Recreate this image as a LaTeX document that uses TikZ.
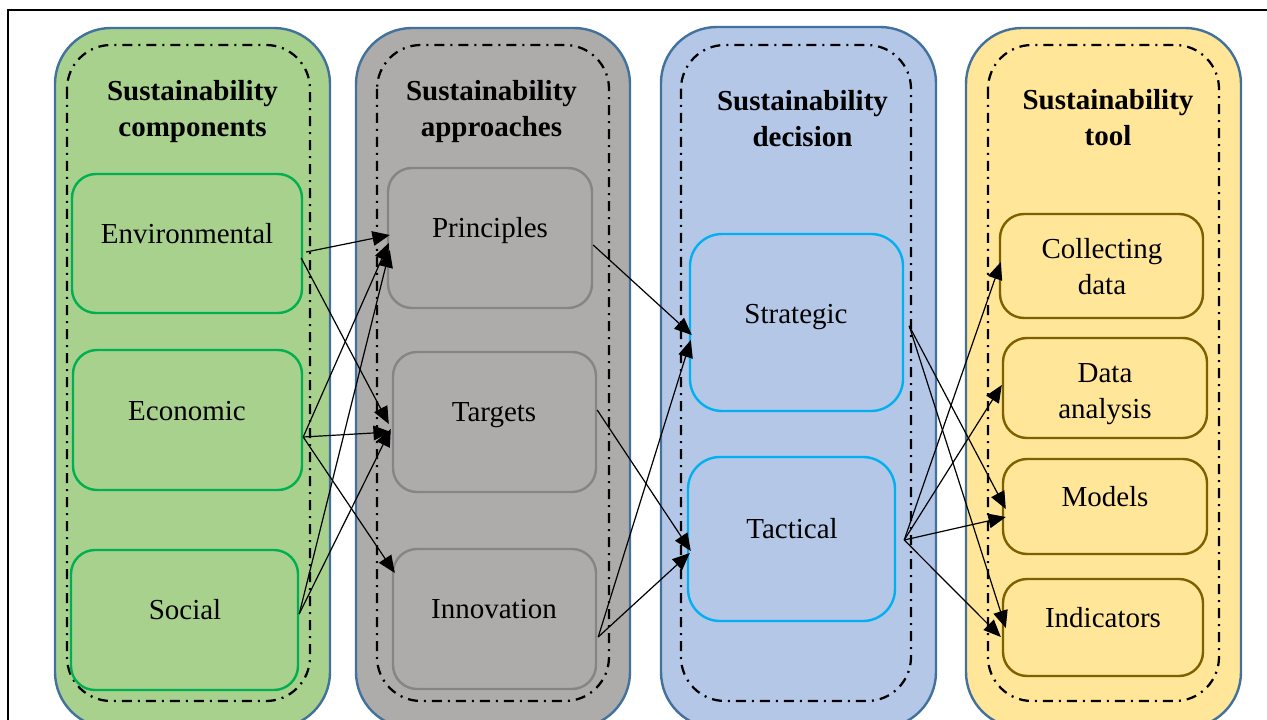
\documentclass[tikz,border=0pt]{standalone}
\usepackage{fontspec}
\setmainfont{Liberation Serif}
\usetikzlibrary{arrows.meta,calc}
\definecolor{cgreen}{HTML}{A9D18E}
\definecolor{cgreenb}{HTML}{00B050}
\definecolor{cgray}{HTML}{AEABAB}
\definecolor{cgrayb}{HTML}{858585}
\definecolor{cblue}{HTML}{B4C7E7}
\definecolor{cblueb}{HTML}{00B0F0}
\definecolor{cyel}{HTML}{FFE699}
\definecolor{cyelb}{HTML}{7F6000}
\definecolor{cedge}{HTML}{41719C}
\newcommand\pxu{*0.75pt}
\begin{document}
\begin{tikzpicture}[x=0.75pt,y=-0.75pt,
  container/.style={draw=cedge, line width=1.8pt, rounded corners=42pt},
  dashdot/.style={draw=black, line width=1.7pt, rounded corners=33pt,
    dash pattern=on 7.5pt off 4.5pt on 1.5pt off 4.5pt},
  ibox/.style={rectangle, rounded corners=18pt, line width=1.8pt, inner sep=0pt},
  lbl/.style={anchor=base, inner sep=0pt, font=\fontsize{21.75pt}{27pt}\selectfont, align=center},
  ttl/.style={anchor=base, inner sep=0pt, font=\fontsize{21.75pt}{27pt}\selectfont\bfseries, align=center},
  arr/.style={draw=black, line width=0.9pt, -{Triangle[length=13pt,width=11pt]}}
]
\useasboundingbox (0,0) rectangle (1267,720);
\clip (0,0) rectangle (1267,720);
\fill[white] (0,0) rectangle (1267,720);
\draw[black, line width=1.6pt] (8,10) rectangle (1320,780);

% containers
\path[container, fill=cgreen] (55,28) rectangle (330,728);
\path[container, fill=cgray] (356,28) rectangle (630,728);
\path[container, fill=cblue] (661,27) rectangle (936,728);
\path[container, fill=cyel] (966,28) rectangle (1241,728);

\path[dashdot] (67,45) rectangle (310,701);
\path[dashdot] (377,45) rectangle (609,701);
\path[dashdot] (681,45) rectangle (911,701);
\path[dashdot] (988,45) rectangle (1219,701);

% titles (base = baseline of the last line)
\node[ttl] (t1) at (192.5,137) {Sustainability\\components};
\node[ttl] (t2) at (491.5,137) {Sustainability\\approaches};
\node[ttl] (t3) at (802.5,147) {Sustainability\\decision};
\node[ttl] (t4) at (1108,146) {Sustainability\\tool};

% boxes
\node[ibox, draw=cgreenb, minimum width=230\pxu, minimum height=139\pxu] (env) at (187,243.5) {};
\node[ibox, draw=cgreenb, minimum width=229\pxu, minimum height=140\pxu] (eco) at (187.5,420) {};
\node[ibox, draw=cgreenb, minimum width=227\pxu, minimum height=140\pxu] (soc) at (184.5,620) {};

\node[ibox, draw=cgrayb, minimum width=204\pxu, minimum height=140\pxu] (pri) at (490,238) {};
\node[ibox, draw=cgrayb, minimum width=203\pxu, minimum height=140\pxu] (tar) at (494.5,422) {};
\node[ibox, draw=cgrayb, minimum width=203\pxu, minimum height=140\pxu] (inn) at (494.5,619) {};

\node[ibox, rounded corners=24pt, draw=cblueb, minimum width=213\pxu, minimum height=177\pxu] (str) at (796.5,322.5) {};
\node[ibox, rounded corners=24pt, draw=cblueb, minimum width=207\pxu, minimum height=164\pxu] (tac) at (791.5,539) {};

\node[ibox, draw=cyelb, minimum width=203\pxu, minimum height=104\pxu] (col) at (1101.5,266) {};
\node[ibox, draw=cyelb, minimum width=204\pxu, minimum height=100\pxu] (dat) at (1105,388) {};
\node[ibox, draw=cyelb, minimum width=204\pxu, minimum height=95\pxu] (mod) at (1105,506.5) {};
\node[ibox, draw=cyelb, minimum width=200\pxu, minimum height=97\pxu] (ind) at (1103,627.5) {};

% labels
\node[lbl] (envt) at (187,244) {Environmental};
\node[lbl] (ecot) at (187,420) {Economic};
\node[lbl] (soct) at (185,619) {Social};
\node[lbl] (prit) at (490,238) {Principles};
\node[lbl] (tart) at (494,421) {Targets};
\node[lbl] (innt) at (494,618) {Innovation};
\node[lbl] (strt) at (796,323) {Strategic};
\node[lbl] (tact) at (792,538) {Tactical};
\node[lbl] (colt) at (1102,295) {Collecting\\data};
\node[lbl] (datt) at (1105,418) {Data\\analysis};
\node[lbl] (modt) at (1105,506) {Models};
\node[lbl] (indt) at (1103,627) {Indicators};

% arrows green -> gray
\draw[arr] ($(env.east)+(3,8.5)$) -- ($(pri.west)+(3,-3)$);
\draw[arr] ($(env.east)+(-2,14.5)$) -- ($(tar.west)+(-3,2)$);
\draw[arr] ($(eco.east)+(0,17)$) -- ($(pri.west)+(2,5)$);
\draw[arr] ($(eco.east)+(0,17)$) -- ($(tar.west)+(-1,10)$);
\draw[arr] ($(eco.east)+(0,17)$) -- ($(inn.west)+(3,-46)$);
\draw[arr] ($(soc.east)+(0,-6)$) -- ($(pri.west)+(3,12)$);
\draw[arr] ($(soc.east)+(0,-6)$) -- ($(tar.west)+(-1,7)$);

% arrows gray -> blue
\draw[arr] ($(pri.east)+(0,7)$) -- ($(str.west)+(3,12.5)$);
\draw[arr] ($(tar.east)+(0,-12)$) -- ($(tac.west)+(4,12)$);
\draw[arr] ($(inn.east)+(1,18)$) -- ($(str.west)+(2,17.5)$);
\draw[arr] ($(inn.east)+(1,18)$) -- ($(tac.west)+(3,14)$);

% arrows blue -> yellow
\draw[arr] ($(str.east)+(5,3.5)$) -- ($(mod.west)+(4,2.5)$);
\draw[arr] ($(str.east)+(5,3.5)$) -- ($(ind.west)+(4,0.5)$);
\draw[arr] ($(tac.east)+(8,1)$) -- ($(col.west)+(2,-4)$);
\draw[arr] ($(tac.east)+(8,1)$) -- ($(dat.west)+(0,-3)$);
\draw[arr] ($(tac.east)+(8,1)$) -- ($(mod.west)+(4,10.5)$);
\draw[arr] ($(tac.east)+(8,1)$) -- ($(ind.west)+(-1,9.5)$);
\end{tikzpicture}
\end{document}
